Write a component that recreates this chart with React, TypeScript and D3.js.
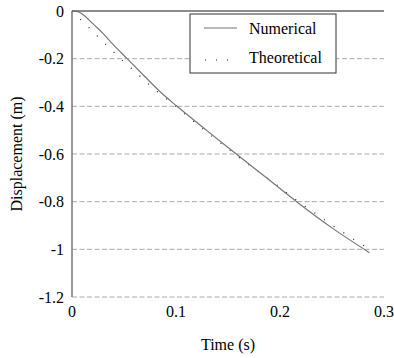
import React from 'react'
import * as d3 from 'd3'

const width = 394
const height = 358
const margin = { left: 72, right: 10, top: 11, bottom: 61 }

const xTicks = [0, 0.1, 0.2, 0.3]
const yTicks = [0, -0.2, -0.4, -0.6, -0.8, -1, -1.2]

// numerical solution
const numT = [0, 0.004, 0.008, 0.012, 0.016, 0.02, 0.03, 0.039, 0.053, 0.07, 0.085, 0.101, 0.13, 0.158, 0.187, 0.216, 0.25, 0.286]
const numY = [0, -0.001, -0.007, -0.02, -0.036, -0.053, -0.095, -0.138, -0.2, -0.275, -0.34, -0.4, -0.503, -0.6, -0.7, -0.8, -0.91, -1.014]

// theoretical solution
const thT = [0, 0.01, 0.02, 0.03, 0.04, 0.05, 0.06, 0.07, 0.08, 0.09, 0.1, 0.11, 0.12, 0.13, 0.14, 0.15, 0.16, 0.17, 0.18, 0.19, 0.2, 0.21, 0.22, 0.23, 0.24, 0.25, 0.26, 0.27, 0.28, 0.283]
const thY = [0, -0.043, -0.086, -0.13, -0.172, -0.213, -0.252, -0.292, -0.331, -0.366, -0.4, -0.438, -0.474, -0.509, -0.544, -0.578, -0.612, -0.645, -0.676, -0.708, -0.74, -0.774, -0.807, -0.837, -0.868, -0.898, -0.927, -0.955, -0.983, -0.992]

const textStyle: React.CSSProperties = {
  fontFamily: "'Liberation Serif', 'Times New Roman', Times, 'DejaVu Serif', serif",
  fontSize: '16px',
}

const App = () => {
  const x = d3.scaleLinear().domain([0, 0.3]).range([margin.left, width - margin.right])
  const y = d3.scaleLinear().domain([-1.2, 0]).range([height - margin.bottom, margin.top])

  const line = d3
    .line<number>()
    .x((_, i) => x(numT[i]))
    .y(d => y(d))
    .curve(d3.curveMonotoneX)

  const thLine = d3
    .line<number>()
    .x((_, i) => x(thT[i]))
    .y(d => y(d))
    .curve(d3.curveMonotoneX)

  const x0 = x(0)
  const x1 = x(0.3)

  return (
    <svg width={width} height={height} style={{ position: 'absolute', left: 0, top: 0 }}>
      <rect width={width} height={height} fill="#fff" />
      {yTicks.filter(d => d !== 0).map(d => (
        <line key={d} x1={x0} x2={x1} y1={y(d)} y2={y(d)} stroke="#aaa" strokeWidth={1} strokeDasharray="5,2.5" />
      ))}
      <path d={thLine(thY) || ''} fill="none" stroke="#222" strokeWidth={1.2} strokeDasharray="1,10.7" />
      <path d={line(numY) || ''} fill="none" stroke="#777" strokeWidth={1.2} />
      <line x1={x0} x2={x0} y1={y(0)} y2={y(-1.2)} stroke="#777" strokeWidth={1.5} />
      <line x1={x0} x2={x1} y1={y(0)} y2={y(0)} stroke="#666" strokeWidth={1.5} />
      {yTicks.map(d => (
        <text key={d} x={64} y={y(d)} dy="0.35em" textAnchor="end" style={textStyle}>
          {d}
        </text>
      ))}
      {xTicks.map(d => (
        <text key={d} x={x(d)} y={317} textAnchor="middle" style={textStyle}>
          {d}
        </text>
      ))}
      <text x={(x0 + x1) / 2} y={350} textAnchor="middle" style={textStyle}>
        Time (s)
      </text>
      <text
        transform={`translate(22,${(y(0) + y(-1.2)) / 2}) rotate(-90)`}
        textAnchor="middle"
        style={textStyle}
      >
        Displacement (m)
      </text>
      <g>
        <rect x={190} y={14} width={146} height={59} fill="#fff" stroke="#333" strokeWidth={1} />
        <line x1={204} x2={237} y1={28} y2={28} stroke="#777" strokeWidth={1.2} />
        <line x1={205} x2={237} y1={60} y2={60} stroke="#222" strokeWidth={1.2} strokeDasharray="1,10" />
        <text x={249} y={34} style={textStyle}>Numerical</text>
        <text x={249} y={63} style={textStyle}>Theoretical</text>
      </g>
    </svg>
  )
}

export default App
